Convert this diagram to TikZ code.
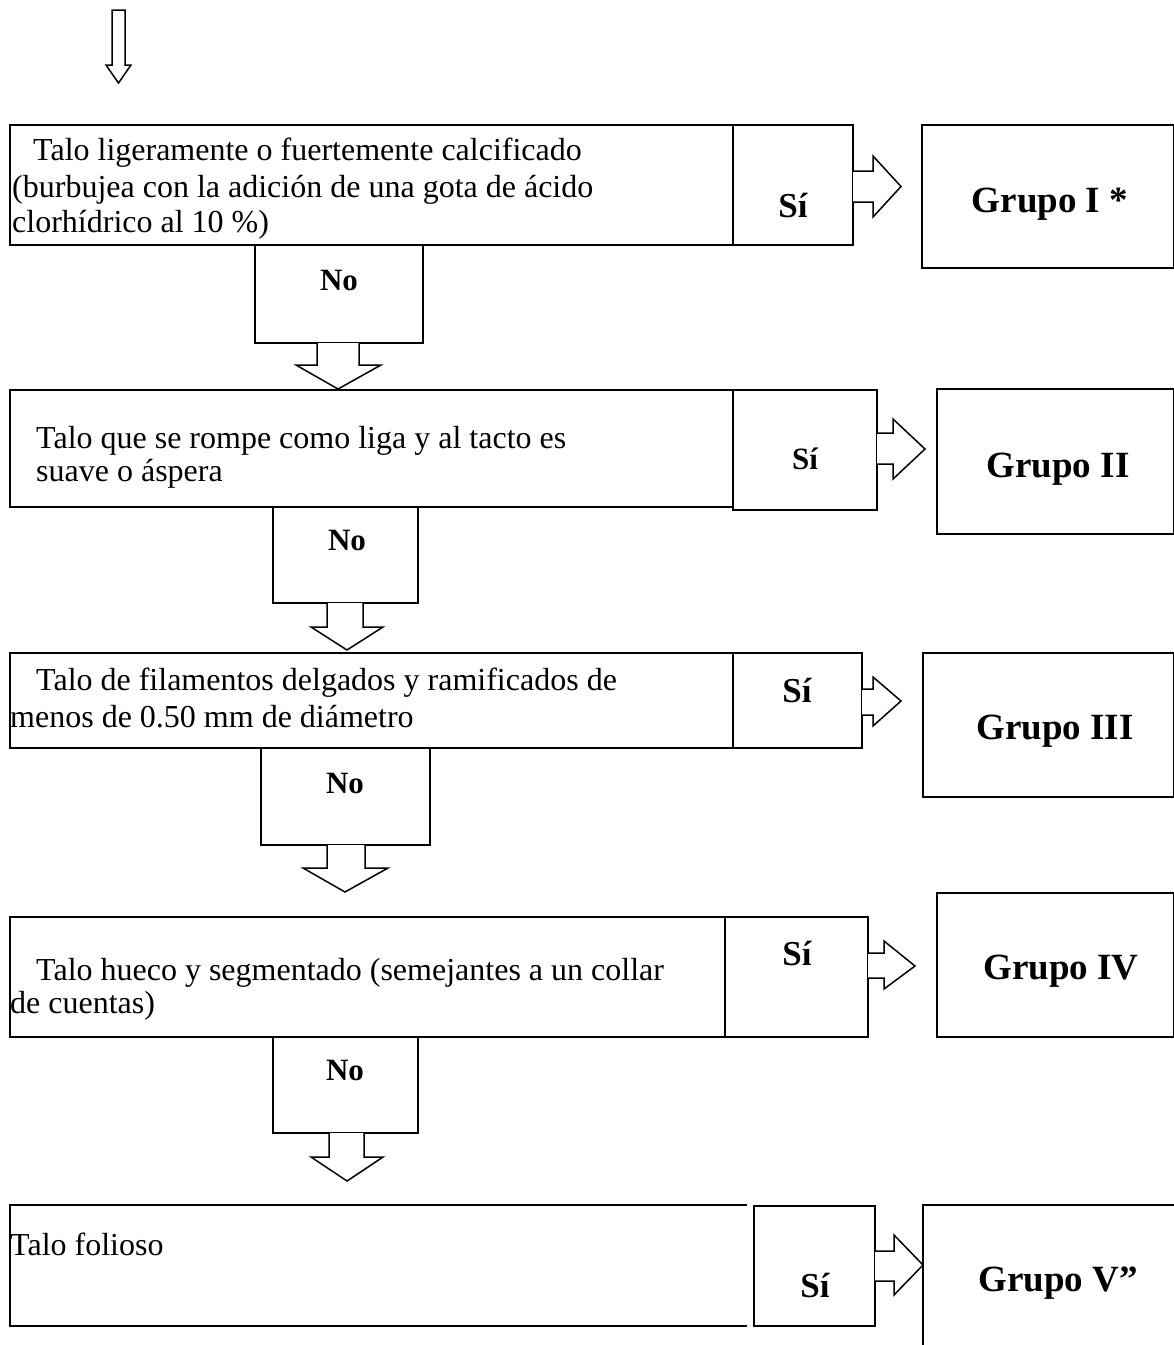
\documentclass[tikz,border=0pt]{standalone}
\usepackage{fontspec}
\setmainfont{Liberation Serif}
\begin{document}
\begin{tikzpicture}[x=1pt,y=-1pt,
  box/.style={draw, line width=1.5pt, inner sep=0pt, outer sep=0pt, anchor=north west},
  txt/.style={inner sep=0pt, anchor=base west, font=\fontsize{32}{37}\selectfont},
  lbl/.style={inner sep=0pt, anchor=base, font=\bfseries\fontsize{37}{40}\selectfont},
  silbl/.style={inner sep=0pt, anchor=base, font=\bfseries\fontsize{35}{40}\selectfont},
  nolbl/.style={inner sep=0pt, anchor=base, font=\bfseries\fontsize{31}{36}\selectfont},
  blk/.style={draw, line width=1.5pt, fill=white, line join=miter}]
\useasboundingbox (0,0) rectangle (1174,1345);

% ---------- top arrow
\draw[blk] (112,10) -- (112,65) -- (106,65) -- (118.5,83) -- (131,65) -- (125,65) -- (125,10) -- cycle;

% ---------- row 1
\node[box, minimum width=723pt, minimum height=120pt] (m1) at (10,125) {};
\node[box, minimum width=120pt, minimum height=120pt] (s1) at (733,125) {};
\node[box, minimum width=252pt, minimum height=143pt] (g1) at (922,125) {};
\node[txt] (t1a) at (33,160) {Talo ligeramente o fuertemente calcificado};
\node[txt] (t1b) at (12,197) {(burbujea con la adición de una gota de ácido};
\node[txt] (t1c) at (12,232) {clorhídrico al 10 \%)};
\node[silbl] (s1l) at (793,217) {Sí};
\node[lbl] (g1l) at (1050,212) {Grupo I *};
\node[box, minimum width=168pt, minimum height=98pt] (n1) at (255,245) {};
\node[nolbl] (n1l) at (339,290) {No};
\draw[blk] (317,343) -- (317,365) -- (296,365) -- (338,389) -- (381,365) -- (359,365) -- (359,343);
\draw[blk] (853,171) -- (873,171) -- (873,156) -- (901,186.5) -- (873,217) -- (873,202) -- (853,202);

% ---------- row 2
\node[box, minimum width=723pt, minimum height=117pt] (m2) at (10,390) {};
\node[box, minimum width=144pt, minimum height=120pt] (s2) at (733,390) {};
\node[box, minimum width=237pt, minimum height=145pt] (g2) at (937,389) {};
\node[txt] (t2a) at (36,448) {Talo que se rompe como liga y al tacto es};
\node[txt] (t2b) at (36,481) {suave o áspera};
\node[silbl, font=\bfseries\fontsize{31}{36}\selectfont] (s2l) at (805,469) {Sí};
\node[lbl] (g2l) at (1058,477) {Grupo II};
\node[box, minimum width=145pt, minimum height=96pt] (n2) at (273,507) {};
\node[nolbl] (n2l) at (347,550) {No};
\draw[blk] (327,603) -- (327,627) -- (311,627) -- (347,650) -- (383,627) -- (363,627) -- (363,603);
\draw[blk] (877,433) -- (893,433) -- (893,419) -- (925,449) -- (893,479) -- (893,464) -- (877,464);

% ---------- row 3
\node[box, minimum width=723pt, minimum height=95pt] (m3) at (10,653) {};
\node[box, minimum width=129pt, minimum height=95pt] (s3) at (733,653) {};
\node[box, minimum width=251pt, minimum height=144pt] (g3) at (923,653) {};
\node[txt] (t3a) at (36,690) {Talo de filamentos delgados y ramificados de};
\node[txt] (t3b) at (10,727) {menos de 0.50 mm de diámetro};
\node[silbl] (s3l) at (797,702) {Sí};
\node[lbl] (g3l) at (1055,739) {Grupo III};
\node[box, minimum width=169pt, minimum height=97pt] (n3) at (261,748) {};
\node[nolbl] (n3l) at (345,793) {No};
\draw[blk] (327,845) -- (327,868) -- (303,868) -- (345,892) -- (388,868) -- (365,868) -- (365,845);
\draw[blk] (862,689) -- (873,689) -- (873,677) -- (901,701) -- (873,726) -- (873,715) -- (862,715);

% ---------- row 4
\node[box, minimum width=715pt, minimum height=120pt] (m4) at (10,917) {};
\node[box, minimum width=143pt, minimum height=120pt] (s4) at (725,917) {};
\node[box, minimum width=237pt, minimum height=144pt] (g4) at (937,893) {};
\node[txt] (t4a) at (36,980) {Talo hueco y segmentado (semejantes a un collar};
\node[txt] (t4b) at (10,1013) {de cuentas)};
\node[silbl] (s4l) at (797,965) {Sí};
\node[lbl] (g4l) at (1061,979) {Grupo IV};
\node[box, minimum width=145pt, minimum height=96pt] (n4) at (273,1037) {};
\node[nolbl] (n4l) at (345,1080) {No};
\draw[blk] (329,1133) -- (329,1157) -- (311,1157) -- (347,1181) -- (383,1157) -- (364,1157) -- (364,1133);
\draw[blk] (868,953) -- (884,953) -- (884,941) -- (915,966) -- (884,989) -- (884,978) -- (868,978);

% ---------- row 5
\draw[line width=1.5pt] (747,1205) -- (10,1205) -- (10,1326) -- (747,1326);
\node[box, minimum width=121pt, minimum height=120pt] (s5) at (754,1206) {};
\draw[line width=1.5pt] (923,1345) -- (923,1205) -- (1174,1205);
\coordinate (g5) at (923,1205);
\node[txt] (t5a) at (10,1255) {Talo folioso};
\node[silbl] (s5l) at (815,1297) {Sí};
\node[lbl] (g5l) at (1058,1291) {Grupo V”};
\draw[blk] (875,1251) -- (894,1251) -- (894,1235) -- (923,1265) -- (894,1295) -- (894,1281) -- (875,1281);
\end{tikzpicture}
\end{document}
